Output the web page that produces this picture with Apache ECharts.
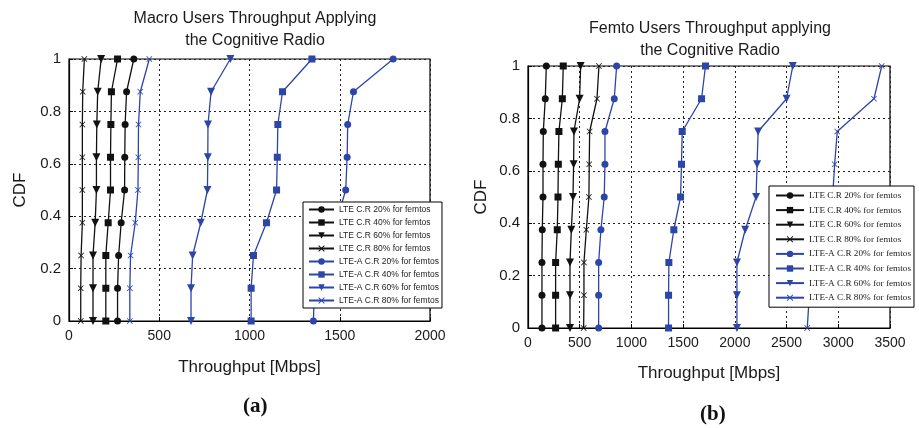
<!DOCTYPE html>
<html>
<head>
<meta charset="utf-8">
<script src="https://cdn.jsdelivr.net/npm/echarts@6/dist/echarts.min.js"></script>
<style>
html,body{margin:0;padding:0;background:#fff;}
#chart{width:919px;height:428px;}
</style>
</head>
<body>
<div id="chart"></div>
<script>
// CDF levels shared by all curves
var cdfLevels = [0, 0.125, 0.25, 0.375, 0.5, 0.625, 0.75, 0.875, 1];

var seriesNames = [
  'LTE C.R 20% for femtos',
  'LTE C.R 40% for femtos',
  'LTE C.R 60% for femtos',
  'LTE C.R 80% for femtos',
  'LTE-A C.R 20% for femtos',
  'LTE-A C.R 40% for femtos',
  'LTE-A C.R 60% for femtos',
  'LTE-A C.R 80% for femtos'
];

// (a) Macro users throughput [Mbps]
var macroLte20  = [269, 269, 275, 289, 308, 309, 311, 319, 359];
var macroLte40  = [204, 204, 204, 217, 230, 230, 232, 235, 269];
var macroLte60  = [133, 133, 133, 145, 152, 152, 154, 159, 178];
var macroLte80  = [65, 65, 67, 74, 74, 74, 74, 76, 85];
var macroLteA20 = [1354, 1360, 1395, 1480, 1533, 1541, 1544, 1576, 1796];
var macroLteA40 = [1009, 1009, 1022, 1094, 1150, 1154, 1157, 1183, 1346];
var macroLteA60 = [676, 676, 685, 730, 767, 769, 770, 787, 894];
var macroLteA80 = [337, 337, 341, 367, 382, 384, 385, 395, 445];

// (b) Femto users throughput [Mbps]
var femtoLte20  = [135, 135, 135, 138, 145, 145, 148, 167, 177];
var femtoLte40  = [267, 267, 267, 283, 290, 293, 299, 332, 341];
var femtoLte60  = [406, 406, 406, 419, 435, 441, 444, 499, 509];
var femtoLte80  = [538, 541, 541, 564, 589, 592, 596, 667, 686];
var femtoLteA20 = [683, 683, 683, 705, 737, 744, 744, 834, 857];
var femtoLteA40 = [1359, 1359, 1362, 1410, 1475, 1484, 1491, 1678, 1716];
var femtoLteA60 = [2020, 2020, 2020, 2100, 2205, 2215, 2225, 2500, 2560];
var femtoLteA80 = [2700, 2720, 2790, 2880, 2945, 2965, 2990, 3345, 3420];

var xTicksA = [0, 500, 1000, 1500, 2000];
var xTicksB = [0, 500, 1000, 1500, 2000, 2500, 3000, 3500];
var yTicks = [0, 0.2, 0.4, 0.6, 0.8, 1];

var macroData = [macroLte20, macroLte40, macroLte60, macroLte80, macroLteA20, macroLteA40, macroLteA60, macroLteA80];
var femtoData = [femtoLte20, femtoLte40, femtoLte60, femtoLte80, femtoLteA20, femtoLteA40, femtoLteA60, femtoLteA80];

var BLACK = '#111111';
var BLUE = '#2c45a8';
var crossPath = 'path://M1,0 L5,4 L9,0 L10,1 L6,5 L10,9 L9,10 L5,6 L1,10 L0,9 L4,5 L0,1 Z';
var downTri = 'path://M0,0 L10,0 L5,9 Z';
var symbols = ['circle', 'rect', downTri, crossPath];
var symSizes = [7, 7, 8, 6];

function buildSeries(dataSets, gridIdx) {
  return dataSets.map(function (vals, i) {
    var color = i < 4 ? BLACK : BLUE;
    return {
      name: seriesNames[i],
      type: 'line',
      xAxisIndex: gridIdx,
      yAxisIndex: gridIdx,
      data: vals.map(function (v, k) { return [v, cdfLevels[k]]; }),
      symbol: symbols[i % 4],
      symbolSize: symSizes[i % 4],
      showSymbol: true,
      animation: false,
      lineStyle: { color: color, width: 1.3 },
      itemStyle: { color: color, opacity: 1 },
      emphasis: { disabled: true },
      z: 3
    };
  });
}

var axisText = { color: '#1a1a1a', fontFamily: 'Liberation Sans', fontSize: 14 };
var gridLine = { show: true, lineStyle: { color: '#222', type: [2, 3], width: 1 } };

function xAxis(gridIdx, max, ticks, gap) {
  return {
    type: 'value', gridIndex: gridIdx, min: 0, max: max, interval: 500,
    name: 'Throughput [Mbps]', nameLocation: 'middle', nameGap: gap,
    nameTextStyle: { color: '#1a1a1a', fontFamily: 'Liberation Sans', fontSize: 17 },
    axisLine: { show: true, lineStyle: { color: '#000', width: 1.2 } },
    axisTick: { show: true, inside: true, length: 4, lineStyle: { color: '#000' } },
    axisLabel: Object.assign({ margin: 8, formatter: function (v) { return ticks.indexOf(v) >= 0 ? String(v) : ''; } }, axisText),
    splitLine: gridLine
  };
}
function yAxis(gridIdx, gap) {
  return {
    type: 'value', gridIndex: gridIdx, min: 0, max: 1, interval: 0.2,
    name: 'CDF', nameLocation: 'middle', nameGap: gap,
    nameTextStyle: { color: '#1a1a1a', fontFamily: 'Liberation Sans', fontSize: 17 },
    axisLine: { show: true, lineStyle: { color: '#000', width: 1.2 } },
    axisTick: { show: true, inside: true, length: 4, lineStyle: { color: '#000' } },
    axisLabel: Object.assign({ margin: 8, formatter: function (v) { return String(+v.toFixed(1)); } }, axisText, { fontSize: 15 }),
    splitLine: gridLine
  };
}

var chart = echarts.init(document.getElementById('chart'), null, { renderer: 'canvas' });
chart.setOption({
  backgroundColor: '#fff',
  animation: false,
  title: [
    { text: 'Macro Users Throughput Applying\nthe Cognitive Radio', left: 250, top: 3, textAlign: 'center',
      textStyle: { fontFamily: 'Liberation Sans', fontSize: 16, fontWeight: 'normal', color: '#1a1a1a', lineHeight: 22 } },
    { text: 'Femto Users Throughput applying\nthe Cognitive Radio', left: 705, top: 13, textAlign: 'center',
      textStyle: { fontFamily: 'Liberation Sans', fontSize: 16, fontWeight: 'normal', color: '#1a1a1a', lineHeight: 22 } }
  ],
  grid: [
    { left: 69, top: 59, width: 361, height: 262, show: true, borderColor: '#000', borderWidth: 1.2, containLabel: false },
    { left: 528, top: 66, width: 362, height: 262, show: true, borderColor: '#000', borderWidth: 1.2, containLabel: false }
  ],
  xAxis: [xAxis(0, 2000, xTicksA, 38), xAxis(1, 3500, xTicksB, 37)],
  yAxis: [yAxis(0, 40), yAxis(1, 38)],
  legend: [
    { orient: 'vertical', left: 303, top: 202, data: seriesNames, itemWidth: 25, itemHeight: 8, itemGap: 4,
      padding: [3, 3, 3, 5], borderColor: '#000', borderWidth: 1, backgroundColor: '#fff', selectedMode: false,
      textStyle: { fontFamily: 'Liberation Sans', fontSize: 8.5, color: '#222' }, z: 10 },
    { orient: 'vertical', left: 769, top: 186, data: seriesNames, itemWidth: 28, itemHeight: 8, itemGap: 5.6,
      padding: [5, 3, 5, 6], borderColor: '#000', borderWidth: 1, backgroundColor: '#fff', selectedMode: false,
      textStyle: { fontFamily: 'Liberation Serif', fontSize: 9.2, color: '#222' }, z: 10 }
  ],
  graphic: [
    { type: 'text', left: 243, top: 396, style: { text: '(a)', fontFamily: 'Liberation Serif', fontSize: 21, fontWeight: 'bold', fill: '#111' } },
    { type: 'text', left: 700, top: 404, style: { text: '(b)', fontFamily: 'Liberation Serif', fontSize: 21, fontWeight: 'bold', fill: '#111' } }
  ],
  series: buildSeries(macroData, 0).concat(buildSeries(femtoData, 1))
});
</script>
</body>
</html>
